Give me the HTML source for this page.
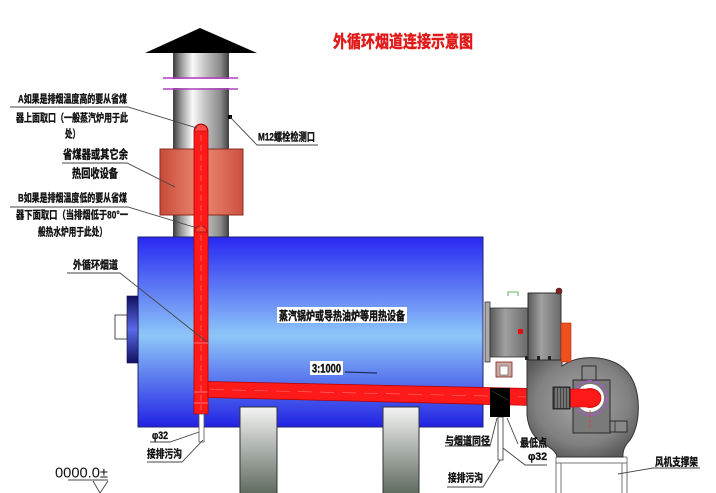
<!DOCTYPE html>
<html><head><meta charset="utf-8"><style>
html,body{margin:0;padding:0;background:#fff;}
svg{display:block;}
text{font-family:"Liberation Sans","Noto Sans CJK SC","WenQuanYi Zen Hei",sans-serif;}
.l{font-size:11px;font-weight:bold;fill:#111;stroke:#111;stroke-width:0.35;}
.m{font-size:12px;font-weight:bold;fill:#111;stroke:#111;stroke-width:0.4;}
.ln{stroke:#444;stroke-width:0.9;fill:none;}
</style></head><body>
<svg width="716" height="493" viewBox="0 0 716 493" xmlns="http://www.w3.org/2000/svg">
<defs>
<linearGradient id="chim" x1="0" y1="0" x2="1" y2="0">
<stop offset="0" stop-color="#3a3a3a"/><stop offset="0.15" stop-color="#9a9a9a"/><stop offset="0.35" stop-color="#fafafa"/><stop offset="0.6" stop-color="#bdbdbd"/><stop offset="0.85" stop-color="#8a8a8a"/><stop offset="1" stop-color="#404040"/>
</linearGradient>
<linearGradient id="eco" x1="0" y1="0" x2="1" y2="0">
<stop offset="0" stop-color="#c84a38"/><stop offset="0.5" stop-color="#ec8a72"/><stop offset="1" stop-color="#cc5040"/>
</linearGradient>
<linearGradient id="boil" x1="0" y1="0" x2="0" y2="1">
<stop offset="0" stop-color="#2828f2"/><stop offset="0.52" stop-color="#8ec6f8"/><stop offset="1" stop-color="#2222e4"/>
</linearGradient>
<linearGradient id="att" x1="0" y1="0" x2="0" y2="1">
<stop offset="0" stop-color="#101060"/><stop offset="0.5" stop-color="#5a6ae8"/><stop offset="1" stop-color="#101060"/>
</linearGradient>
<linearGradient id="pil" x1="0" y1="0" x2="0" y2="1">
<stop offset="0" stop-color="#f4f4f4"/><stop offset="1" stop-color="#5a665a"/>
</linearGradient>
<radialGradient id="fan" cx="0.5" cy="0.45" r="0.6">
<stop offset="0" stop-color="#a8a8a8"/><stop offset="0.7" stop-color="#808080"/><stop offset="1" stop-color="#5a5a5a"/>
</radialGradient>
<linearGradient id="burn" x1="0" y1="0" x2="1" y2="0">
<stop offset="0" stop-color="#5a5a5a"/><stop offset="0.4" stop-color="#a0a0a0"/><stop offset="1" stop-color="#6a6a6a"/>
</linearGradient>
</defs>

<!-- title -->
<text x="333" y="47.5" font-size="17" font-weight="bold" fill="#e01818" stroke="#e01818" stroke-width="0.5" textLength="140" lengthAdjust="spacingAndGlyphs">外循环烟道连接示意图</text>

<!-- chimney -->
<rect x="173" y="53" width="56" height="185" fill="url(#chim)"/>
<rect x="165" y="79" width="72" height="9" fill="#fff"/>
<line x1="163" y1="78" x2="238" y2="78" stroke="#b040c0" stroke-width="1.5"/>
<line x1="163" y1="89" x2="238" y2="89" stroke="#b040c0" stroke-width="1.5"/>
<polygon points="145,53 200,28 257,53" fill="#000"/>
<rect x="228" y="115" width="4" height="4" fill="#000"/>

<!-- economizer -->
<rect x="160" y="149" width="83" height="66" fill="url(#eco)" stroke="#8a2a20" stroke-width="1"/>

<!-- boiler -->
<rect x="138" y="237" width="345" height="190" fill="url(#boil)" stroke="#202070" stroke-width="1"/>
<rect x="127" y="296" width="11" height="67" fill="url(#att)" stroke="#101050" stroke-width="0.6"/>
<rect x="115" y="315" width="12" height="24" fill="#fff" stroke="#222" stroke-width="0.8"/>

<!-- pillars -->
<rect x="240" y="407" width="37" height="90" fill="url(#pil)" stroke="#333" stroke-width="1"/>
<rect x="383" y="407" width="36" height="90" fill="url(#pil)" stroke="#333" stroke-width="1"/>

<!-- boiler labels -->
<rect x="277" y="307" width="130" height="16" fill="#fff"/>
<text class="m" x="279" y="320" textLength="126" lengthAdjust="spacingAndGlyphs">蒸汽锅炉或导热油炉等用热设备</text>
<rect x="310" y="361" width="33" height="14" fill="#fff"/>
<text class="m" x="312" y="372.5" textLength="29" lengthAdjust="spacingAndGlyphs">3:1000</text>
<line x1="345" y1="372" x2="377" y2="373" stroke="#203060" stroke-width="1.2"/>

<!-- red pipes -->
<path d="M194,131 A7,7 0 0 1 208,131 L208,414 L194,414 Z" fill="#ff1a1a" stroke="#b00000" stroke-width="0.8"/>
<path d="M194.5,131 A6.5,6.5 0 0 1 207.5,131 Z" fill="#ff4a4a" stroke="#a00000" stroke-width="0.6"/>
<path d="M195,232 A6,6 0 0 1 207,232 Z" fill="#ff3a2a" stroke="#8a1010" stroke-width="0.7"/>
<line x1="201" y1="135" x2="201" y2="410" stroke="#ff8080" stroke-width="0.6" stroke-dasharray="6,4"/>
<line x1="194" y1="343" x2="208" y2="343" stroke="#ffb0b0" stroke-width="0.6"/>
<line x1="194" y1="392" x2="208" y2="392" stroke="#ffb0b0" stroke-width="0.6"/>
<line x1="194" y1="403" x2="208" y2="403" stroke="#ffb0b0" stroke-width="0.6"/>
<polygon points="208,381.5 553,389 553,406 208,397.5" fill="#ff1a1a" stroke="#b00000" stroke-width="0.8"/>
<line x1="210" y1="389.5" x2="550" y2="397.5" stroke="#ff7070" stroke-width="0.6" stroke-dasharray="14,8"/>

<!-- drain pipes -->
<rect x="199" y="414" width="5" height="28" fill="#fff" stroke="#555" stroke-width="0.8"/>
<rect x="498" y="417" width="5" height="43" fill="#fff" stroke="#333" stroke-width="0.8"/>
<rect x="490" y="388" width="20" height="29" fill="#000"/>
<line x1="492" y1="391" x2="508" y2="400" stroke="#444" stroke-width="0.6"/>

<!-- fan support -->
<g stroke="#777" stroke-width="1" fill="none">
<line x1="556" y1="457" x2="627" y2="457"/>
<line x1="556" y1="463" x2="627" y2="463"/>
<line x1="556" y1="457" x2="556" y2="493"/>
<line x1="561" y1="463" x2="561" y2="493"/>
<line x1="622" y1="463" x2="622" y2="493"/>
<line x1="627" y1="457" x2="627" y2="493"/>
</g>

<!-- fan volute -->
<path d="M527,358 L527,415 Q529,436 545,445 Q556,450 557,457 L623,457 Q622,448 630,440 Q640,425 638,400 Q634,362 598,358 Q576,356 562,366 L562,358 Z" fill="url(#fan)" stroke="#333" stroke-width="1"/>
<rect x="573" y="380" width="37" height="53" fill="#7a7a7a" stroke="#222" stroke-width="0.9"/>
<rect x="582" y="366" width="14" height="14" fill="#8a8a8a" stroke="#222" stroke-width="0.9"/>
<rect x="610" y="421" width="17" height="11" fill="#888" stroke="#222" stroke-width="0.9"/>
<line x1="615" y1="421" x2="615" y2="432" stroke="#222" stroke-width="0.7"/>
<circle cx="590" cy="398" r="17" fill="#7a7a7a" stroke="#a060c0" stroke-width="2" stroke-dasharray="5,2"/>
<circle cx="590" cy="398" r="12" fill="#ff2020" stroke="#fff" stroke-width="4"/>
<line x1="590" y1="410" x2="590" y2="428" stroke="#ff3030" stroke-width="0.8" stroke-dasharray="3,2"/>
<path d="M570,389 L592,389 A9,9 0 0 1 592,407 L570,407 Z" fill="#ff1a1a" stroke="#b00000" stroke-width="0.6"/>
<rect x="553" y="387" width="17" height="22" fill="#444" stroke="#111" stroke-width="0.8"/>
<g stroke="#bbb" stroke-width="0.8">
<line x1="556" y1="388" x2="556" y2="408"/><line x1="559" y1="388" x2="559" y2="408"/><line x1="562" y1="388" x2="562" y2="408"/><line x1="565" y1="388" x2="565" y2="408"/><line x1="568" y1="388" x2="568" y2="408"/>
</g>

<!-- burner -->
<rect x="485" y="302" width="5" height="60" fill="#aaa" stroke="#333" stroke-width="0.8"/>
<rect x="490" y="308" width="38" height="49" fill="url(#burn)" stroke="#333" stroke-width="0.8"/>
<rect x="528" y="293" width="33" height="67" fill="url(#burn)" stroke="#222" stroke-width="0.9"/>
<rect x="561" y="323" width="10" height="39" fill="#f05020" stroke="#a03010" stroke-width="0.6"/>
<rect x="518" y="329" width="5" height="5" fill="#e01010"/>
<circle cx="559" cy="291" r="3" fill="#902020" stroke="#222" stroke-width="0.6"/>
<path d="M508,296 L508,292 L518,292 L518,296" fill="none" stroke="#30a030" stroke-width="0.8"/>
<rect x="496" y="362" width="16" height="15" fill="#c8a8a0" stroke="#802020" stroke-width="0.8"/>
<rect x="500" y="366" width="8" height="9" fill="#fff" stroke="#555" stroke-width="0.6"/>
<g fill="#222"><rect x="525" y="356" width="3" height="4"/><rect x="537" y="356" width="3" height="4"/><rect x="548" y="356" width="3" height="4"/></g>

<!-- leader lines -->
<g class="ln">
<polyline points="10,107 128,107 197,128"/>
<polyline points="62,163 127,163 175,187"/>
<polyline points="10,207 128,207 197,228"/>
<polyline points="318,145 257,145 230,117"/>
<polyline points="67,273 120,273 207,342"/>
<polyline points="150,442 170,442 199,432"/>
<polyline points="147,462 182,462 203,440"/>
<polyline points="445,446 490,446 497,418"/>
<polyline points="507,418 518,444"/>
<polyline points="547,465 525,465 503,448"/>
<polyline points="447,487 483,487 500,460"/>
<polyline points="700,468 653,468 618,474"/>
<polyline points="68,480 108,480"/>
<polyline points="93,481 100,493 108,481"/>
</g>

<!-- labels -->
<text class="l" x="18" y="102.5" textLength="109" lengthAdjust="spacingAndGlyphs">A如果是排烟温度高的要从省煤</text>
<text class="l" x="16" y="121.5" textLength="112" lengthAdjust="spacingAndGlyphs">器上面取口（一般蒸汽炉用于此</text>
<text class="l" x="65" y="137.5" textLength="15" lengthAdjust="spacingAndGlyphs">处）</text>
<text class="m" x="63" y="158.5" textLength="65" lengthAdjust="spacingAndGlyphs">省煤器或其它余</text>
<text class="m" x="72" y="177.5" textLength="46" lengthAdjust="spacingAndGlyphs">热回收设备</text>
<text class="l" x="18" y="201.5" textLength="109" lengthAdjust="spacingAndGlyphs">B如果是排烟温度低的要从省煤</text>
<text class="l" x="16" y="218.5" textLength="112" lengthAdjust="spacingAndGlyphs">器下面取口（当排烟低于80°一</text>
<text class="l" x="38" y="235.5" textLength="69" lengthAdjust="spacingAndGlyphs">般热水炉用于此处）</text>
<text class="l" x="258" y="140.5" textLength="57" lengthAdjust="spacingAndGlyphs">M12螺栓检测口</text>
<text class="l" x="73" y="268.5" textLength="45" lengthAdjust="spacingAndGlyphs">外循环烟道</text>
<text class="l" x="152" y="439" textLength="16" lengthAdjust="spacingAndGlyphs">φ32</text>
<text class="l" x="147" y="457.5" textLength="35" lengthAdjust="spacingAndGlyphs">接排污沟</text>
<text x="55" y="477.5" font-size="15" fill="#111" textLength="53" lengthAdjust="spacingAndGlyphs">0000.0±</text>
<text class="l" x="445" y="444.5" textLength="45" lengthAdjust="spacingAndGlyphs">与烟道同径</text>
<text class="l" x="520" y="446.5" textLength="27" lengthAdjust="spacingAndGlyphs">最低点</text>
<text class="l" x="528" y="460" textLength="19" lengthAdjust="spacingAndGlyphs">φ32</text>
<text class="l" x="448" y="481.5" textLength="35" lengthAdjust="spacingAndGlyphs">接排污沟</text>
<text class="l" x="655" y="465.5" textLength="43" lengthAdjust="spacingAndGlyphs">风机支撑架</text>
</svg>
</body></html>
